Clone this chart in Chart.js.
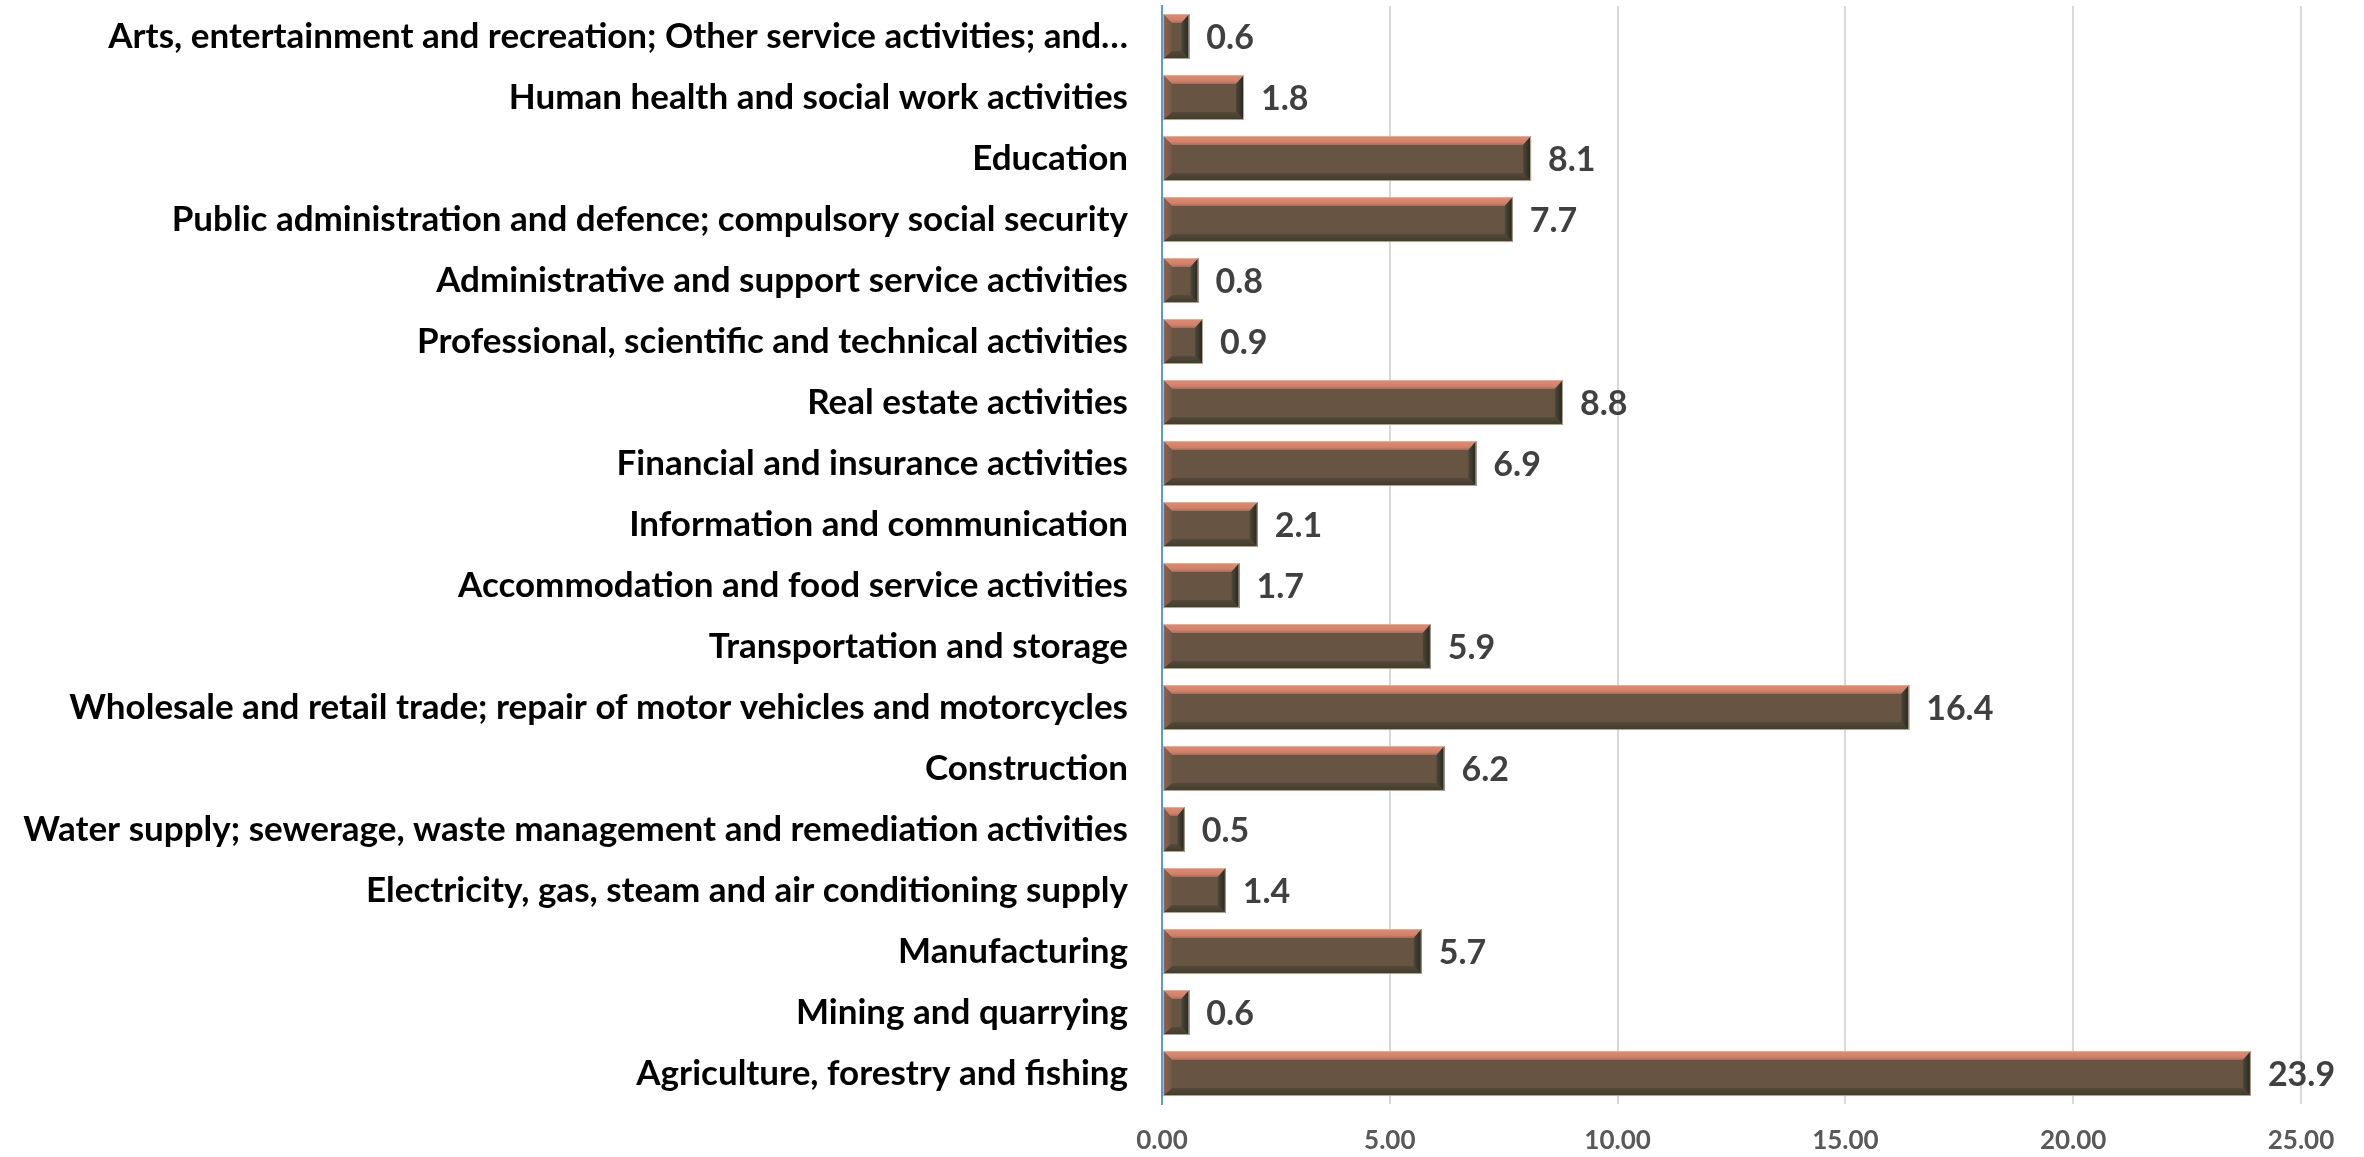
<!DOCTYPE html>
<html>
<head>
<meta charset="utf-8">
<script src="https://cdn.jsdelivr.net/npm/chart.js@4/dist/chart.umd.min.js"></script>
<style>
  html, body { margin: 0; padding: 0; background: #ffffff; }
  #wrap { width: 2364px; height: 1157px; }
</style>
</head>
<body>
<div id="wrap"><canvas id="c" width="2364" height="1157"></canvas></div>
<script>
const categories = [
  "Arts, entertainment and recreation; Other service activities; and\u2026",
  "Human health and social work activities",
  "Education",
  "Public administration and defence; compulsory social security",
  "Administrative and support service activities",
  "Professional, scientific and technical activities",
  "Real estate activities",
  "Financial and insurance activities",
  "Information and communication",
  "Accommodation and food service activities",
  "Transportation and storage",
  "Wholesale and retail trade; repair of motor vehicles and motorcycles",
  "Construction",
  "Water supply; sewerage, waste management and remediation activities",
  "Electricity, gas, steam and air conditioning supply",
  "Manufacturing",
  "Mining and quarrying",
  "Agriculture, forestry and fishing"
];
const values = [0.6, 1.8, 8.1, 7.7, 0.8, 0.9, 8.8, 6.9, 2.1, 1.7, 5.9, 16.4, 6.2, 0.5, 1.4, 5.7, 0.6, 23.9];
const xTicks = [0, 5, 10, 15, 20, 25];

const FONT = "Lato, 'Open Sans', sans-serif";

const bevelPlugin = {
  id: 'bevel',
  afterDatasetsDraw(chart) {
    const ctx = chart.ctx;
    const meta = chart.getDatasetMeta(0);
    meta.data.forEach((bar, i) => {
      const left = Math.min(bar.base, bar.x);
      const right = Math.max(bar.base, bar.x);
      const top = bar.y - bar.height / 2;
      const bottom = bar.y + bar.height / 2;
      const w = right - left;
      const h = bottom - top;
      const bt = Math.min(9, h / 3);          // top bevel
      const bb = Math.min(8, h / 3);          // bottom bevel
      const br = Math.min(8, w / 3);          // right bevel
      const bl = Math.min(9, w / 3);          // left bevel
      ctx.save();
      // top bevel (salmon)
      let g = ctx.createLinearGradient(0, top, 0, top + bt);
      g.addColorStop(0, '#dc8d77');
      g.addColorStop(0.7, '#d27f69');
      g.addColorStop(1, '#a86b56');
      ctx.fillStyle = g;
      ctx.beginPath();
      ctx.moveTo(left, top);
      ctx.lineTo(right, top);
      ctx.lineTo(right - br, top + bt);
      ctx.lineTo(left + bl, top + bt);
      ctx.closePath();
      ctx.fill();
      // bottom bevel (dark olive)
      g = ctx.createLinearGradient(0, bottom - bb, 0, bottom);
      g.addColorStop(0, '#54493a');
      g.addColorStop(1, '#3f3b2b');
      ctx.fillStyle = g;
      ctx.beginPath();
      ctx.moveTo(left, bottom);
      ctx.lineTo(right, bottom);
      ctx.lineTo(right - br, bottom - bb);
      ctx.lineTo(left + bl, bottom - bb);
      ctx.closePath();
      ctx.fill();
      // right bevel (dark)
      g = ctx.createLinearGradient(right - br, 0, right, 0);
      g.addColorStop(0, '#4d4838');
      g.addColorStop(1, '#26251d');
      ctx.fillStyle = g;
      ctx.beginPath();
      ctx.moveTo(right, top);
      ctx.lineTo(right, bottom);
      ctx.lineTo(right - br, bottom - bb);
      ctx.lineTo(right - br, top + bt);
      ctx.closePath();
      ctx.fill();
      // left bevel (reddish brown)
      g = ctx.createLinearGradient(left, 0, left + bl, 0);
      g.addColorStop(0, '#8f6452');
      g.addColorStop(1, '#735746');
      ctx.fillStyle = g;
      ctx.beginPath();
      ctx.moveTo(left, top);
      ctx.lineTo(left + bl, top + bt);
      ctx.lineTo(left + bl, bottom - bb);
      ctx.lineTo(left, bottom);
      ctx.closePath();
      ctx.fill();
      // thin outline
      ctx.strokeStyle = 'rgba(205,192,170,0.85)';
      ctx.lineWidth = 1;
      ctx.strokeRect(left + 0.5, top + 0.5, w - 1, h - 1);
      ctx.restore();

      // value label
      ctx.save();
      ctx.font = "bold 34px " + FONT;
      ctx.fillStyle = '#404040';
      ctx.textAlign = 'left';
      ctx.textBaseline = 'middle';
      ctx.fillText(values[i].toFixed(1), right + 17, bar.y + 2);
      ctx.restore();
    });
  }
};

new Chart(document.getElementById('c'), {
  type: 'bar',
  data: {
    labels: categories,
    datasets: [{
      data: values,
      backgroundColor: '#675442',
      borderWidth: 0,
      categoryPercentage: 1.0,
      barPercentage: 0.74
    }]
  },
  options: {
    indexAxis: 'y',
    responsive: false,
    animation: false,
    devicePixelRatio: 1,
    layout: { padding: { left: 0, right: 63, top: 6, bottom: 0 } },
    plugins: {
      legend: { display: false },
      tooltip: { enabled: false }
    },
    scales: {
      x: {
        min: 0,
        max: 25,
        afterBuildTicks(scale) { scale.ticks = xTicks.map(v => ({ value: v })); },
        afterFit(scale) { scale.height = 53; scale.paddingLeft = 0; scale.paddingRight = 0; },
        grid: { color: '#d9d9d9', lineWidth: 2, drawTicks: false },
        border: { display: false },
        ticks: {
          padding: 21,
          color: '#595959',
          font: { family: FONT, size: 26, weight: 'bold' },
          callback: (v) => Number(v).toFixed(2)
        }
      },
      y: {
        afterFit(scale) { scale.width = 1162; scale.paddingTop = 0; scale.paddingBottom = 0; },
        grid: { display: false, drawTicks: false },
        border: { display: true, color: '#5b9bd5', width: 2 },
        ticks: {
          padding: 34,
          color: '#000000',
          autoSkip: false,
          font: { family: FONT, size: 35, weight: 'bold' }
        }
      }
    }
  },
  plugins: [bevelPlugin]
});
</script>
</body>
</html>
